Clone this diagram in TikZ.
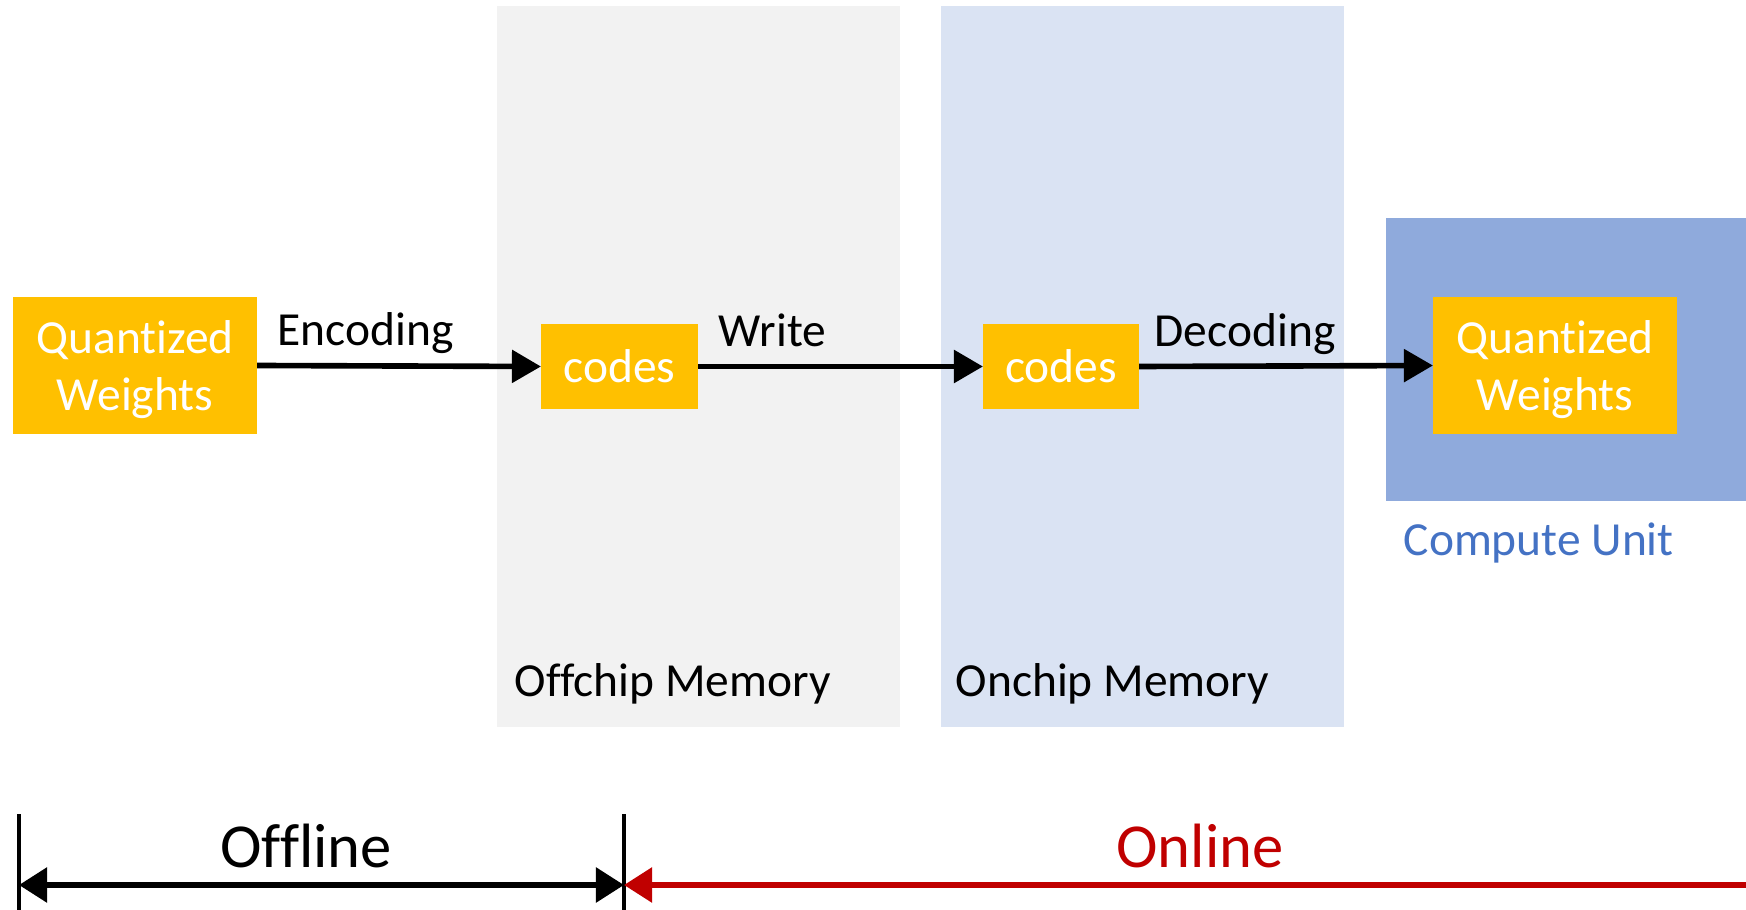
\documentclass[tikz,border=0pt]{standalone}
\usepackage{fontspec}
\setmainfont{Carlito}[Ligatures={NoCommon}]
\usetikzlibrary{arrows.meta,calc}
\definecolor{qorange}{HTML}{FFC000}
\definecolor{offgray}{HTML}{F2F2F2}
\definecolor{onblue}{HTML}{DAE3F3}
\definecolor{cublue}{HTML}{8FAADC}
\definecolor{cutext}{HTML}{4472C4}
\definecolor{onred}{HTML}{C00000}
\tikzset{
  bgbox/.style={inner sep=0pt, outer sep=0pt, draw=none},
  qbox/.style={fill=qorange, inner sep=0pt, outer sep=0pt, text=white, align=center,
    font=\fontsize{13.5}{16}\selectfont},
  qtext/.style={inner sep=0pt, text=white, align=center, font=\fontsize{13.5}{16}\selectfont},
  lab/.style={inner sep=0pt, font=\fontsize{13.5}{16}\selectfont},
  big/.style={inner sep=0pt, font=\fontsize{17.8}{20}\selectfont},
  flow/.style={line width=1.6pt, -{Triangle[length=0.29cm,width=0.32cm]}},
  span/.style={line width=1.6pt},
  tick/.style={line width=1.1pt},
  tip/.style={Triangle[length=0.28cm,width=0.34cm]},
}
\begin{document}
\begin{tikzpicture}[x=0.01cm,y=-0.01cm]
\useasboundingbox (0,0) rectangle (1746,910);
% background panels
\node[bgbox, fill=offgray, minimum width=4.03cm, minimum height=7.21cm] (off) at (698.5,366.5) {};
\node[bgbox, fill=onblue, minimum width=4.03cm, minimum height=7.21cm] (on) at (1142.5,366.5) {};
\node[bgbox, fill=cublue, minimum width=3.60cm, minimum height=2.83cm] (cu) at (1566,359.5) {};
% boxes
\node[qbox, minimum width=2.44cm, minimum height=1.37cm] (qw1) at (135,365.5) {};
\node[qtext] (qw1t) at ($(qw1.center)+(0,4)$) {Quantized\\Weights};
\node[qbox, minimum width=1.57cm, minimum height=0.85cm] (c1) at (619.5,366.5) {codes};
\node[qbox, minimum width=1.56cm, minimum height=0.85cm] (c2) at (1061,366.5) {codes};
\node[qbox, minimum width=2.44cm, minimum height=1.37cm] (qw2) at (1555,365.5) {};
\node[qtext] (qw2t) at ($(qw2.center)+(0,4)$) {Quantized\\Weights};
% arrows
\draw[flow] (qw1.east) -- (c1.west);
\draw[flow] (c1.east) -- (c2.west);
\draw[flow] (c2.east) -- (qw2.west);
% labels
\node[lab, anchor=base west] (lenc) at ($(qw1.east)+(20,-20)$) {Encoding};
\node[lab, anchor=base west] (lwr) at ($(c1.east)+(20,-20)$) {Write};
\node[lab, anchor=base west] (ldec) at ($(c2.east)+(15,-20)$) {Decoding};
\node[lab, anchor=base west] (loff) at (514,696) {Offchip Memory};
\node[lab, anchor=base west] (lon) at (955,696) {Onchip Memory};
\node[lab, anchor=base west, text=cutext] (lcu) at (1403,555) {Compute Unit};
% bottom timeline
\coordinate (t1a) at (19,814);
\coordinate (t1b) at (19,910);
\coordinate (t2a) at (624,814);
\coordinate (t2b) at (624,910);
\coordinate (ml) at (19,885);
\coordinate (mm) at (624,885);
\coordinate (mr) at (1746,885);
\draw[tick] (t1a) -- (t1b);
\draw[tick] (t2a) -- (t2b);
\draw[span, {Triangle[length=0.28cm,width=0.34cm]}-{Triangle[length=0.28cm,width=0.34cm]}] (ml) -- (mm);
\draw[span, draw=onred, fill=onred, -{Triangle[length=0.28cm,width=0.34cm]}] (mr) -- (mm);
\node[big, anchor=base] (loffl) at (306,867) {Offline};
\node[big, anchor=base, text=onred] (lonl) at (1200,867) {Online};
\end{tikzpicture}
\end{document}
